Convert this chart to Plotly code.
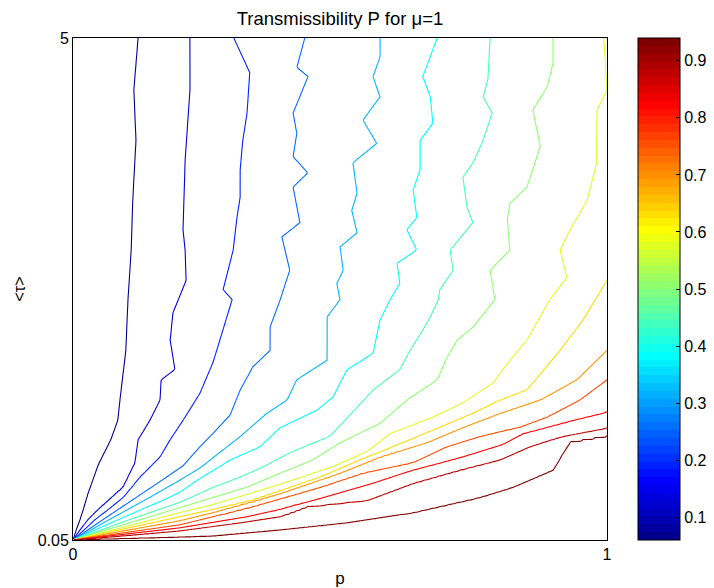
import numpy as np
import plotly.graph_objects as go

# ---- data ----
levels = [0.115, 0.17, 0.225, 0.28, 0.335, 0.39, 0.445, 0.5, 0.555, 0.61,
          0.665, 0.72, 0.775, 0.83, 0.885]

# traced course of each iso-line: <tau> values and p values where the line sits
L1_tau = [0.05, 0.15, 0.25, 0.35, 0.51, 0.79, 1.04, 1.23, 1.43, 1.92, 2.42, 2.91, 3.40, 3.99, 4.49, 5.00]
L1_p = [0.000, 0.006, 0.013, 0.019, 0.028, 0.047, 0.071, 0.084, 0.088, 0.099, 0.103, 0.109, 0.112, 0.118, 0.114, 0.122]

L2_tau = [0.05, 0.15, 0.25, 0.35, 0.57, 0.81, 1.04, 1.23, 1.43, 1.63, 1.73, 2.02, 2.29, 2.61, 2.91, 3.11, 3.80, 4.49, 5.00]
L2_p = [0.000, 0.013, 0.028, 0.047, 0.094, 0.116, 0.122, 0.144, 0.163, 0.165, 0.191, 0.182, 0.187, 0.212, 0.210, 0.206, 0.210, 0.219, 0.219]

L3_tau = [0.05, 0.15, 0.25, 0.35, 0.47, 0.67, 0.87, 1.04, 1.23, 1.50, 1.80, 2.02, 2.42, 2.52, 2.91, 3.23, 3.43, 3.70, 3.99, 4.26, 4.66, 5.00]
L3_p = [0.000, 0.021, 0.041, 0.066, 0.094, 0.125, 0.163, 0.182, 0.206, 0.238, 0.262, 0.275, 0.298, 0.281, 0.300, 0.307, 0.313, 0.313, 0.318, 0.326, 0.331, 0.301]

L4_tau = [0.05, 0.15, 0.25, 0.44, 0.64, 0.78, 0.97, 1.10, 1.28, 1.53, 1.76, 1.92, 2.15, 2.42, 2.71, 3.04, 3.18, 3.53, 3.67, 3.83, 4.06, 4.26, 4.62, 4.71, 5.00]
L4_p = [0.000, 0.028, 0.056, 0.110, 0.167, 0.206, 0.238, 0.262, 0.294, 0.313, 0.337, 0.369, 0.369, 0.388, 0.406, 0.391, 0.425, 0.412, 0.440, 0.412, 0.419, 0.412, 0.440, 0.419, 0.434]

L5_tau = [0.05, 0.15, 0.25, 0.44, 0.64, 0.76, 0.94, 1.07, 1.30, 1.43, 1.63, 1.82, 2.25, 2.42, 2.58, 2.71, 2.94, 3.08, 3.30, 3.47, 3.77, 3.96, 4.19, 4.42, 4.62, 4.81, 5.00]
L5_p = [0.000, 0.034, 0.067, 0.133, 0.200, 0.238, 0.281, 0.313, 0.363, 0.401, 0.419, 0.476, 0.476, 0.500, 0.494, 0.506, 0.500, 0.532, 0.522, 0.532, 0.524, 0.569, 0.543, 0.575, 0.562, 0.575, 0.575]

L6_tau = [0.05, 0.15, 0.25, 0.44, 0.52, 0.64, 0.84, 0.97, 1.16, 1.33, 1.46, 1.73, 1.89, 2.22, 2.42, 2.58, 2.78, 2.91, 3.11, 3.23, 3.50, 3.70, 3.99, 4.16, 4.42, 4.62, 5.00]
L6_p = [0.000, 0.041, 0.084, 0.167, 0.200, 0.232, 0.294, 0.350, 0.388, 0.457, 0.487, 0.513, 0.562, 0.575, 0.594, 0.612, 0.607, 0.644, 0.625, 0.644, 0.637, 0.650, 0.650, 0.674, 0.669, 0.655, 0.682]

L7_tau = [0.05, 0.15, 0.25, 0.42, 0.57, 0.67, 0.77, 0.91, 1.07, 1.36, 1.53, 1.73, 1.92, 2.12, 2.25, 2.42, 2.52, 2.71, 2.91, 3.18, 3.33, 3.63, 3.77, 3.99, 4.26, 4.42, 4.59, 5.00]
L7_p = [0.000, 0.053, 0.105, 0.200, 0.262, 0.313, 0.356, 0.406, 0.481, 0.532, 0.562, 0.612, 0.631, 0.655, 0.669, 0.684, 0.687, 0.712, 0.706, 0.749, 0.738, 0.730, 0.749, 0.768, 0.785, 0.768, 0.777, 0.781]

L8_tau = [0.05, 0.15, 0.25, 0.37, 0.47, 0.57, 0.71, 0.84, 1.01, 1.20, 1.43, 1.63, 1.85, 2.02, 2.15, 2.42, 2.71, 2.91, 3.21, 3.37, 3.53, 3.93, 4.29, 4.52, 4.75, 5.00]
L8_p = [0.000, 0.062, 0.125, 0.200, 0.262, 0.326, 0.388, 0.449, 0.500, 0.575, 0.625, 0.682, 0.700, 0.719, 0.749, 0.790, 0.781, 0.818, 0.813, 0.818, 0.850, 0.875, 0.861, 0.888, 0.899, 0.899]

L9_tau = [0.05, 0.15, 0.32, 0.40, 0.50, 0.60, 0.77, 0.92, 1.10, 1.26, 1.40, 1.60, 1.82, 2.02, 2.42, 2.64, 2.91, 3.11, 3.40, 3.77, 4.29, 4.49, 5.00]
L9_p = [0.000, 0.075, 0.200, 0.262, 0.326, 0.388, 0.487, 0.551, 0.594, 0.674, 0.730, 0.787, 0.818, 0.850, 0.893, 0.925, 0.912, 0.931, 0.963, 0.981, 0.981, 1.000, 0.994]

L10_tau = [0.05, 0.15, 0.28, 0.35, 0.44, 0.67, 0.84, 0.97, 1.16, 1.30, 1.43, 1.53, 1.92, 2.22, 2.61]
L10_p = [0.000, 0.086, 0.200, 0.262, 0.337, 0.463, 0.537, 0.599, 0.687, 0.749, 0.800, 0.850, 0.912, 0.955, 1.000]

L11_tau = [0.05, 0.15, 0.24, 0.32, 0.51, 0.71, 0.87, 1.01, 1.16, 1.30, 1.43, 1.63, 1.92]
L11_p = [0.000, 0.105, 0.200, 0.262, 0.388, 0.500, 0.575, 0.663, 0.730, 0.800, 0.875, 0.944, 1.000]

L12_tau = [0.05, 0.10, 0.15, 0.20, 0.28, 0.38, 0.57, 0.71, 0.81, 0.97, 1.07, 1.16, 1.26, 1.43, 1.63]
L12_p = [0.000, 0.067, 0.133, 0.200, 0.262, 0.337, 0.463, 0.543, 0.637, 0.700, 0.762, 0.837, 0.888, 0.949, 1.000]

L13_tau = [0.05, 0.10, 0.17, 0.28, 0.35, 0.44, 0.61, 0.74, 0.87, 0.99, 1.10, 1.23, 1.31]
L13_p = [0.000, 0.084, 0.200, 0.326, 0.388, 0.449, 0.562, 0.637, 0.730, 0.805, 0.843, 0.936, 1.000]

L14_tau = [0.05, 0.08, 0.11, 0.14, 0.22, 0.28, 0.38, 0.44, 0.61, 0.74, 0.84, 0.97, 1.07, 1.15]
L14_p = [0.000, 0.067, 0.135, 0.200, 0.313, 0.388, 0.438, 0.551, 0.637, 0.725, 0.800, 0.856, 0.918, 1.000]

L15_tau = [0.05, 0.06, 0.08, 0.09, 0.15, 0.22, 0.32, 0.47, 0.57, 0.74, 1.02, 1.08]
L15_p = [0.000, 0.051, 0.200, 0.262, 0.388, 0.513, 0.637, 0.762, 0.824, 0.899, 0.931, 1.000]

# P along the right edge (p = 1)
edge_tau = [0.05, 1.08, 1.15, 1.31, 1.63, 1.92, 2.61, 4.49, 5.00]
edge_P = [0.94, 0.885, 0.83, 0.775, 0.72, 0.665, 0.61, 0.555, 0.558]

P_min = 0.06
P_max = 0.94

x_ticks = [0, 1]
y_ticks = [0.05, 5]
y_ticklabels = ["0.05", "5"]
cbar_ticks = [0.1, 0.2, 0.3, 0.4, 0.5, 0.6, 0.7, 0.8, 0.9]

# ---- build the field on a grid from the traced lines ----
lev_tau = [L1_tau, L2_tau, L3_tau, L4_tau, L5_tau, L6_tau, L7_tau, L8_tau,
           L9_tau, L10_tau, L11_tau, L12_tau, L13_tau, L14_tau, L15_tau]
lev_p = [L1_p, L2_p, L3_p, L4_p, L5_p, L6_p, L7_p, L8_p,
         L9_p, L10_p, L11_p, L12_p, L13_p, L14_p, L15_p]

p_grid = np.linspace(0.0, 1.0, 401)
tau_grid = np.concatenate([np.linspace(0.05, 0.295, 50), np.linspace(0.30, 5.0, 236)])

Z = np.empty((len(tau_grid), len(p_grid)))
for i, t in enumerate(tau_grid):
    pend = float(np.interp(t, edge_tau, edge_P))
    xs = [0.0]
    zs = [P_min]
    for lv, lt, lp in zip(levels, lev_tau, lev_p):
        if lt[0] - 1e-9 <= t <= lt[-1] + 1e-9 and lv < pend:
            x = float(np.interp(t, lt, lp))
            if x >= 1.0:
                continue
            x = max(x, xs[-1] + 1e-4)
            xs.append(x)
            zs.append(lv)
    xs.append(max(1.0, xs[-1] + 1e-4))
    zs.append(pend)
    Z[i] = np.interp(p_grid, xs, zs)


# ---- MATLAB-like jet colormap ----
def jet(t):
    r = min(max(1.5 - abs(4 * t - 3), 0), 1)
    g = min(max(1.5 - abs(4 * t - 2), 0), 1)
    b = min(max(1.5 - abs(4 * t - 1), 0), 1)
    return "rgb(%d,%d,%d)" % (round(r * 255), round(g * 255), round(b * 255))


jet64 = []
for k in range(64):
    c = jet((k + 1) / 64)
    jet64.append([k / 64, c])
    jet64.append([(k + 1) / 64, c])

jet_lines = [[k / 64, jet(min(k / 64 + 1 / 64, 1.0))] for k in range(65)]

fig = go.Figure()
fig.add_trace(go.Contour(
    x=p_grid, y=tau_grid, z=Z,
    zmin=P_min, zmax=P_max,
    colorscale=jet_lines,
    autocontour=False,
    contours=dict(start=levels[0], end=levels[-1] + 1e-3, size=0.055, coloring="lines"),
    line=dict(width=1.1, smoothing=0.6),
    showscale=False,
    hoverinfo="skip",
))

fig.add_trace(go.Scatter(
    x=[0.5], y=[2.5], mode="markers",
    marker=dict(size=0, opacity=0, color=[P_min], cmin=P_min, cmax=P_max,
                colorscale=jet64, showscale=True,
                colorbar=dict(
                    thickness=42, thicknessmode="pixels",
                    len=1, lenmode="fraction",
                    x=(638 - 73) / 534, xanchor="left", xpad=0,
                    y=0.5, yanchor="middle", ypad=0,
                    outlinewidth=1, outlinecolor="black",
                    tickvals=cbar_ticks, ticktext=[str(v) for v in cbar_ticks],
                    ticks="inside", ticklen=4, tickcolor="black",
                    tickfont=dict(size=16, color="black"),
                )),
    hoverinfo="skip", showlegend=False,
))

# the page body adds an 8px offset, so the figure is 8px smaller with margins shifted
fig.update_layout(
    width=706, height=580,
    margin=dict(l=65, r=107, t=30, b=48, autoexpand=False),
    paper_bgcolor="white", plot_bgcolor="white",
    font=dict(family="Liberation Sans, Arial, Helvetica, sans-serif", size=16, color="black"),
    title=dict(text="Transmissibility P for μ=1", x=0.5, xref="paper", xanchor="center",
               y=1, yref="paper", yanchor="bottom", pad=dict(b=13),
               font=dict(size=18.5, color="black")),
    showlegend=False,
    annotations=[dict(text="&lt;τ&gt;", textangle=-90, showarrow=False,
                      xref="paper", yref="paper", x=(10.5 - 65) / 534, y=0.5,
                      xanchor="center", yanchor="middle",
                      font=dict(size=16, color="black"))],
)
fig.update_xaxes(range=[0, 1], tickvals=x_ticks, ticktext=["0", "1"],
                 ticks="inside", ticklen=5, tickcolor="black",
                 showline=True, mirror=True, linecolor="black", linewidth=1,
                 showgrid=False, zeroline=False, automargin=False,
                 tickfont=dict(size=16),
                 title=dict(text="p", standoff=14, font=dict(size=17)))
fig.update_yaxes(range=[0.05, 5], tickvals=y_ticks, ticktext=y_ticklabels,
                 ticks="inside", ticklen=5, tickcolor="black",
                 showline=True, mirror=True, linecolor="black", linewidth=1,
                 showgrid=False, zeroline=False, automargin=False,
                 tickfont=dict(size=16))

fig.write_html("out.html")
